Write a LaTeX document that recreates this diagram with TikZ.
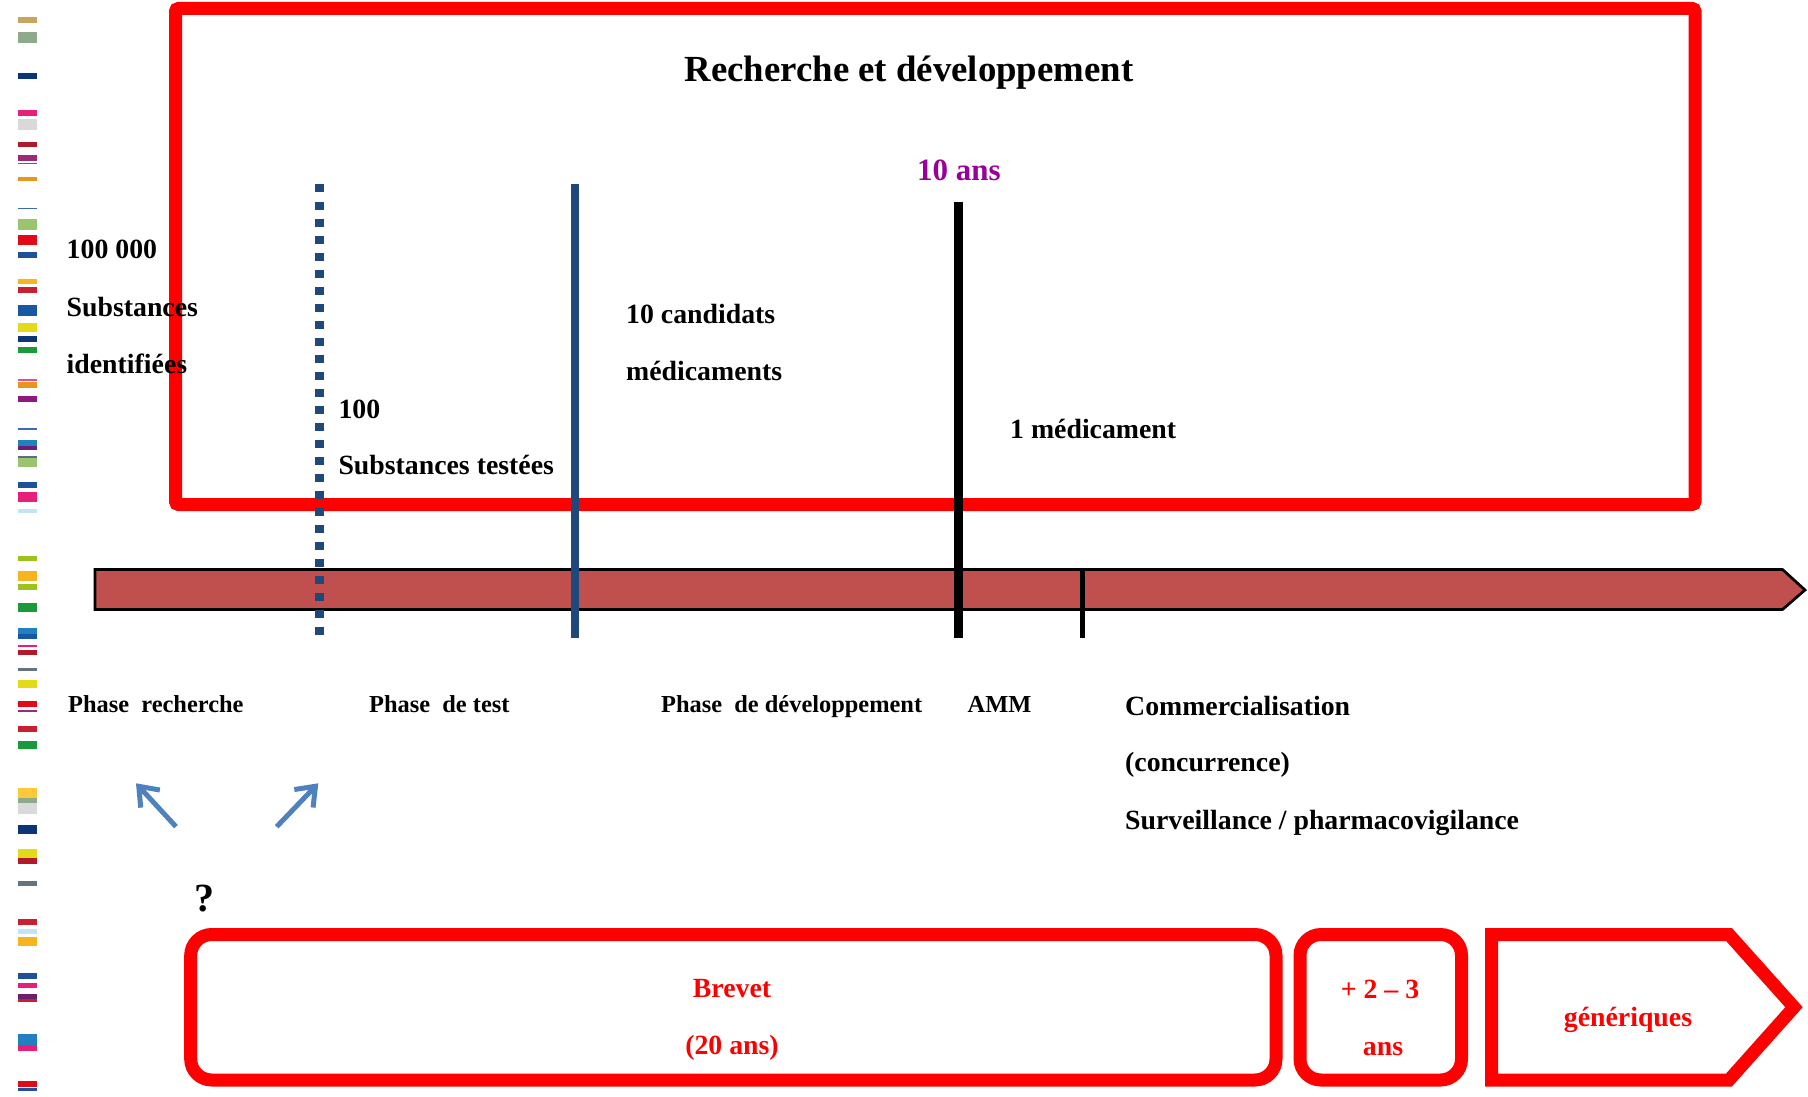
\documentclass[tikz,border=0pt]{standalone}
\usepackage{fontspec}
\setmainfont{Liberation Serif}
\usetikzlibrary{arrows.meta}
\definecolor{cTan}{HTML}{C9A45C}
\definecolor{cGG}{HTML}{8DAA8B}
\definecolor{cNavy}{HTML}{0B3574}
\definecolor{cPink}{HTML}{E91E78}
\definecolor{cLPink}{HTML}{E94B8C}
\definecolor{cLGray}{HTML}{D9D9DA}
\definecolor{cDRed}{HTML}{B01A2A}
\definecolor{cPurp}{HTML}{9B2A7C}
\definecolor{cPurp2}{HTML}{8E1A80}
\definecolor{cPurp3}{HTML}{6A2070}
\definecolor{cBlueT}{HTML}{3D6AB0}
\definecolor{cOrange}{HTML}{E8951E}
\definecolor{cLGreen}{HTML}{9CC46E}
\definecolor{cRed}{HTML}{E30A18}
\definecolor{cRed2}{HTML}{C8202F}
\definecolor{cBlue}{HTML}{1E509C}
\definecolor{cBlue2}{HTML}{1857A4}
\definecolor{cBlue3}{HTML}{2080C0}
\definecolor{cYOr}{HTML}{F7B41F}
\definecolor{cYel}{HTML}{E3DA1A}
\definecolor{cYel2}{HTML}{FBC93A}
\definecolor{cGreen}{HTML}{1A9A3A}
\definecolor{cYG}{HTML}{9DC21C}
\definecolor{cGray}{HTML}{637381}
\definecolor{cGBlue}{HTML}{5A6A8A}
\definecolor{cLBlue}{HTML}{C1E5F5}
\definecolor{pred}{HTML}{FF0000}
\definecolor{barfill}{HTML}{C0504D}
\definecolor{lineblue}{HTML}{1F497D}
\definecolor{arrowblue}{HTML}{4F81BD}
\definecolor{tenpurple}{HTML}{990099}
\begin{document}
\begin{tikzpicture}[x=1pt,y=-1pt,
  txt/.style={inner sep=0pt, anchor=base west, font={\bfseries\fontsize{27.8}{28}\selectfont}},
  phase/.style={inner sep=0pt, anchor=base west, font={\bfseries\fontsize{24.4}{25}\selectfont}},
  redtxt/.style={inner sep=0pt, anchor=base, text=pred, font={\bfseries\fontsize{27.8}{28}\selectfont}},
  redframe/.style={draw=pred, line width=13pt},
  smallarrow/.style={draw=arrowblue, line width=5pt, -{Straight Barb[length=17pt,width=26pt]}}
]
\useasboundingbox (0,0) rectangle (1808,1097);
% left colour strip
\foreach \a/\b/\c in {17.5/23.1/cTan, 32.3/42.8/cGG, 73.3/78.9/cNavy, 110.5/115.7/cPink,
  119.3/129.8/cLGray, 141.7/147.3/cDRed, 155/160.6/cPurp, 162.7/164.5/cBlueT,
  177.5/181.3/cOrange, 207.6/209.4/cBlueT, 219.2/229.7/cLGreen, 235/244.8/cRed,
  251.8/257.8/cBlue, 278.9/284.1/cYOr, 286.9/292.5/cRed2, 305.2/315.7/cBlue2,
  322.7/331.5/cYel, 336/342/cNavy, 347.2/353.2/cGreen, 378.8/380.9/cLPink,
  382.3/387.9/cOrange, 396.4/402/cPurp2, 427.9/430/cBlueT, 439.8/446.2/cBlue3,
  446.2/449.7/cPurp3, 456/457.7/cGBlue, 457.7/467.2/cLGreen, 482.3/487.5/cBlue,
  492.1/501.6/cPink, 509.3/512.8/cLBlue,
  555.9/561.2/cYG, 571.1/581/cYOr, 584.2/589.5/cYG, 602.9/612.4/cGreen,
  627.6/633.6/cBlue3, 633.6/638.9/cBlue2, 645.3/646.7/cPink, 649.9/655.2/cDRed,
  667.9/670.7/cGray, 680.3/687.7/cYel, 700.8/706.8/cRed, 709.6/712.4/cPurp,
  726.2/731.9/cRed2, 740.7/748.5/cGreen, 787.7/798/cYel2, 798/802.5/cGG,
  802.5/813.9/cLGray, 824.5/834/cNavy, 848.5/858/cYel, 858/863.7/cDRed,
  881/886.3/cGray, 919.2/924.5/cRed2, 928.7/934/cLBlue, 936.5/946.4/cYOr,
  973.2/978.9/cBlue, 983.1/988.1/cPink, 994.4/999.4/cPurp3, 999.4/1002.2/cRed2,
  1034/1045.3/cBlue3, 1045.3/1051/cPink, 1081.3/1087/cRed, 1088.4/1091.2/cBlue}
  \fill[\c] (17.5,\a) rectangle (36.5,\b);

% top frame
\draw[redframe, rounded corners=3pt] (175.5,8.5) rectangle (1695,504.5);

% timeline arrow
\draw[line width=2.7pt, fill=barfill, line join=miter]
  (95,569.5) -- (1782.5,569.5) -- (1805,590) -- (1782.5,609.5) -- (95,609.5) -- cycle;

% vertical markers
\coordinate (d1) at (319.5,184.5); \coordinate (d2) at (319.5,636);
\coordinate (b1) at (575,184.5);   \coordinate (b2) at (575,638);
\coordinate (k1) at (958.5,201.5); \coordinate (k2) at (958.5,638);
\coordinate (t1) at (1082,569);    \coordinate (t2) at (1082,638);
\draw[lineblue, line width=9pt, dash pattern=on 8pt off 9pt] (d1) -- (d2);
\draw[lineblue, line width=8.7pt] (b1) -- (b2);
\draw[black, line width=9pt] (k1) -- (k2);
\draw[black, line width=5pt] (t1) -- (t2);

% texts
\node[inner sep=0pt, anchor=base, font={\bfseries\fontsize{36.8}{37}\selectfont}] (title) at (909,82) {Recherche et développement};
\node[inner sep=0pt, anchor=base, text=tenpurple, font={\bfseries\fontsize{31}{31}\selectfont}] (dix) at (959,180) {10 ans};
\node[txt] (n1a) at (66.5,258.3) {100 000};
\node[txt] (n1b) at (66.5,316.7) {Substances};
\node[txt] (n1c) at (66.5,373.3) {identifiées};
\node[txt] (n2a) at (338.3,418.3) {100};
\node[txt] (n2b) at (338.3,474.3) {Substances testées};
\node[txt] (n3a) at (626,323) {10 candidats};
\node[txt] (n3b) at (626,380.5) {médicaments};
\node[txt] (n4) at (1010,438) {1 médicament};

\node[phase] (p1) at (68,712.5) {Phase\ \ recherche};
\node[phase] (p2) at (369,712.5) {Phase\ \ de test};
\node[phase] (p3) at (661,712.5) {Phase\ \ de développement};
\node[phase] (p4) at (967.5,712.5) {AMM};
\node[txt] (c1) at (1125,715.7) {Commercialisation};
\node[txt] (c2) at (1125,771.5) {(concurrence)};
\node[txt] (c3) at (1125,829.3) {Surveillance / pharmacovigilance};

% small arrows
\coordinate (la1) at (176,826.7); \coordinate (la2) at (136,783.3);
\coordinate (ra1) at (276.7,826.7); \coordinate (ra2) at (318.3,783.3);
\draw[smallarrow] (la1) -- (la2);
\draw[smallarrow] (ra1) -- (ra2);
\node[inner sep=0pt, anchor=base, font={\bfseries\fontsize{40}{40}\selectfont}] (q) at (204,911.7) {?};

% bottom boxes
\draw[redframe, rounded corners=21pt] (190.7,934.5) rectangle (1276,1080);
\draw[redframe, rounded corners=21pt] (1300,934.5) rectangle (1461.5,1080);
\draw[redframe, line join=miter] (1491.5,934.5) -- (1729,934.5) -- (1794,1007.2) -- (1729,1080) -- (1491.5,1080) -- cycle;
\node[redtxt] (br1) at (732,997) {Brevet};
\node[redtxt] (br2) at (732,1054) {(20 ans)};
\node[redtxt] (ex1) at (1380,998.3) {+ 2 – 3};
\node[redtxt] (ex2) at (1383,1055) {ans};
\node[redtxt] (gen) at (1628,1026.7) {génériques};
\end{tikzpicture}
\end{document}
